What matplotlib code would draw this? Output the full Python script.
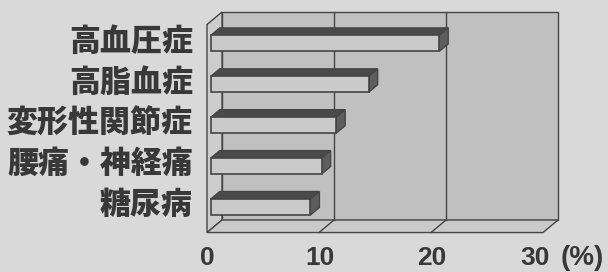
import matplotlib
matplotlib.use("Agg")
import matplotlib.pyplot as plt
from matplotlib.patches import Polygon

plt.rcParams['font.family'] = ['Noto Sans CJK JP', 'DejaVu Sans']

categories = ['高血圧症', '高脂血症', '変形性関節症', '腰痛・神経痛', '糖尿病']
values = [20.4, 14.1, 11.2, 9.9, 8.9]
xticks = [0, 10, 20, 30]
gridlines = [10, 20]
unit_label = '(%)'

fig = plt.figure(figsize=(6.08, 2.72), dpi=100)
fig.patch.set_facecolor('#d9d9d9')
ax = fig.add_axes([0, 0, 1, 1])
ax.set_facecolor('none')
ax.set_xlim(-222 / 11.2, (608 - 222) / 11.2)
ax.set_ylim((272 - 34) / 40.9, -34 / 40.9)
ax.axis('off')

DX, DY = -1.34, 0.306          # full depth offset of the 3D box (data units)
xmax = xticks[-1]
wall_top, wall_bot = -0.538, 4.548
edge = '#454545'
txt = '#383838'
lw = 1.0


def P(x, y, f):
    return (x + f * DX, y + f * DY)


# back wall
ax.add_patch(Polygon([P(0, wall_top, 0), P(xmax, wall_top, 0), P(xmax, wall_bot, 0), P(0, wall_bot, 0)],
                     closed=True, facecolor='#c0c0c0', edgecolor=edge, lw=lw, zorder=1))
# left wall
ax.add_patch(Polygon([P(0, wall_top, 0), P(0, wall_bot, 0), P(0, wall_bot, 1), P(0, wall_top, 1)],
                     closed=True, facecolor='#cdcdcd', edgecolor=edge, lw=lw, zorder=1))
# floor
ax.add_patch(Polygon([P(0, wall_bot, 0), P(xmax, wall_bot, 0), P(xmax, wall_bot, 1), P(0, wall_bot, 1)],
                     closed=True, facecolor='#cacaca', edgecolor=edge, lw=lw, zorder=1))
# grid lines
for t in gridlines:
    ax.plot([t, t], [wall_top, wall_bot], color=edge, lw=lw, zorder=2)
    x0, y0 = P(t, wall_bot, 0)
    x1, y1 = P(t, wall_bot, 1)
    ax.plot([x0, x1], [y0, y1], color=edge, lw=lw, zorder=2)

# bars
f1, f2 = 0.15, 0.75
h = 0.39
for i, v in enumerate(values):
    yt, yb = i - h / 2, i + h / 2
    top = [P(0, yt, f2), P(v, yt, f2), P(v, yt, f1), P(0, yt, f1)]
    side = [P(v, yt, f2), P(v, yb, f2), P(v, yb, f1), P(v, yt, f1)]
    front = [P(0, yt, f2), P(v, yt, f2), P(v, yb, f2), P(0, yb, f2)]
    ax.add_patch(Polygon(top, closed=True, facecolor='#4a4a4a', edgecolor=edge, lw=lw, zorder=3))
    ax.add_patch(Polygon(side, closed=True, facecolor='#5e5e5e', edgecolor=edge, lw=lw, zorder=3))
    ax.add_patch(Polygon(front, closed=True, facecolor='#cacaca', edgecolor=edge, lw=1.2, zorder=4))
    ax.text(-2.6, i + f2 * DY - 0.06, categories[i], ha='right', va='center',
            fontsize=22.3, fontweight='heavy', color=txt, zorder=5)

# x tick labels
tick_family = ['Liberation Sans', 'DejaVu Sans']
for t in xticks:
    shift = -0.75 if t == xticks[-1] else 0.05
    ax.text(t + DX + shift, 5.477, str(t), ha='center', va='center', fontsize=19,
            fontweight='bold', color=txt, family=tick_family)
ax.text(32.2, 5.477, unit_label, ha='center', va='center', fontsize=20,
        fontweight='bold', color=txt, family=tick_family)

fig.savefig('out.png', dpi=100, facecolor=fig.get_facecolor())
